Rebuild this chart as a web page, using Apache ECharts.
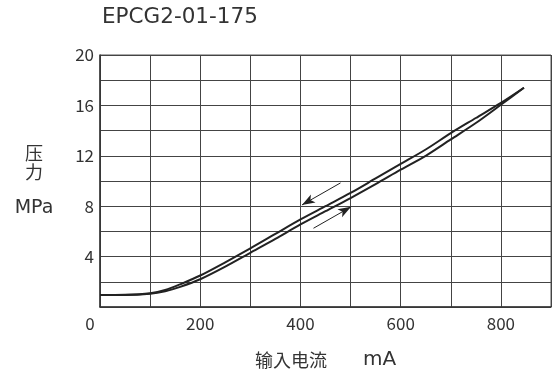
<!DOCTYPE html>
<html>
<head>
<meta charset="utf-8">
<script src="https://cdn.jsdelivr.net/npm/echarts@6/dist/echarts.min.js"></script>
<style>html,body{margin:0;padding:0;background:#fff}#c{width:554px;height:376px}</style>
</head>
<body>
<div id="c"></div>
<script>
var titleText = 'EPCG2-01-175';
var xNameMain = '输入电流';
var xNameUnit = 'mA';
var yNameTop = '压\n力';
var yNameUnit = 'MPa';
var currents = [0, 50, 100, 130, 160, 200, 250, 300, 350, 400, 450, 500, 550, 600, 650, 700, 750, 800, 846];
var pressureUp = [0.95, 0.95, 1.05, 1.25, 1.6, 2.2, 3.2, 4.3, 5.4, 6.55, 7.6, 8.65, 9.75, 10.9, 12.0, 13.3, 14.6, 16.05, 17.4];
var pressureDown = [0.95, 0.97, 1.1, 1.35, 1.8, 2.5, 3.55, 4.65, 5.8, 6.95, 8.0, 9.05, 10.2, 11.35, 12.5, 13.8, 15.0, 16.2, 17.4];
var arrowDown = [[480, 9.85], [403, 8.1]];
var arrowUp = [[426, 6.25], [501, 7.95]];

var FONT = '"Noto Sans CJK JP", "Noto Sans", sans-serif';
var LATIN = '"DejaVu Sans", sans-serif';
function pairs(xs, ys) { return xs.map(function (x, i) { return [x, ys[i]]; }); }

var chart = echarts.init(document.getElementById('c'), null, {renderer: 'canvas'});
chart.setOption({
  animation: false,
  backgroundColor: '#fff',
  title: {
    text: titleText, left: 102, top: 6, padding: 0,
    textStyle: {fontFamily: LATIN, fontSize: 21.5, fontWeight: 'normal', color: '#333'}
  },
  grid: {left: 100, right: 1, top: 55, bottom: 69, show: true, borderColor: '#555', borderWidth: 1},
  xAxis: {
    type: 'value', min: 0, max: 900, interval: 100,
    name: '{c|' + xNameMain + '}{g|}{u|' + xNameUnit + '}', nameLocation: 'middle', nameGap: 43,
    nameTextStyle: {
      fontFamily: FONT, fontSize: 18, color: '#333',
      rich: {
        c: {fontFamily: FONT, fontSize: 18, color: '#333'},
        g: {width: 36},
        u: {fontFamily: LATIN, fontSize: 20, color: '#333'}
      }
    },
    axisLine: {show: true, lineStyle: {color: '#333', width: 1.5}},
    axisTick: {show: false},
    splitLine: {show: true, lineStyle: {color: '#444', width: 1}},
    axisLabel: {
      margin: 8, fontFamily: FONT, fontSize: 17, color: '#333',
      formatter: function (v) { if (v === 0) return '{z|0}'; return v % 200 === 0 ? String(v) : ''; },
      rich: {z: {fontFamily: FONT, fontSize: 17, color: '#333', padding: [0, 20, 0, 0]}}
    }
  },
  yAxis: {
    type: 'value', min: 0, max: 20, interval: 2,
    name: '{c|' + yNameTop + '}\n{s|}\n{u|' + yNameUnit + '}', nameLocation: 'middle', nameGap: 66, nameRotate: 0,
    nameTextStyle: {
      fontFamily: FONT, fontSize: 18, color: '#333', align: 'center', verticalAlign: 'middle',
      rich: {
        c: {fontFamily: FONT, fontSize: 18, lineHeight: 18.5, color: '#333', align: 'center'},
        s: {height: 18},
        u: {fontFamily: LATIN, fontSize: 19, lineHeight: 19, color: '#333', align: 'center'}
      }
    },
    axisLine: {show: true, lineStyle: {color: '#333', width: 1.5}},
    axisTick: {show: false},
    splitLine: {show: true, lineStyle: {color: '#444', width: 1}},
    axisLabel: {
      margin: 6, fontFamily: FONT, fontSize: 17, color: '#333',
      formatter: function (v) { return (v % 4 === 0 && v !== 0) ? String(v) : ''; }
    }
  },
  series: [
    {
      type: 'line', data: pairs(currents, pressureUp), smooth: 0.3, symbol: 'none',
      lineStyle: {color: '#222', width: 2},
      markLine: {
        silent: true, symbol: ['none', 'arrow'], symbolSize: [7, 13], label: {show: false},
        lineStyle: {color: '#222', width: 1, type: 'solid'},
        data: [
          [{coord: arrowDown[0]}, {coord: arrowDown[1]}],
          [{coord: arrowUp[0]}, {coord: arrowUp[1]}]
        ]
      }
    },
    {
      type: 'line', data: pairs(currents, pressureDown), smooth: 0.3, symbol: 'none',
      lineStyle: {color: '#222', width: 2}
    }
  ]
});
</script>
</body>
</html>
